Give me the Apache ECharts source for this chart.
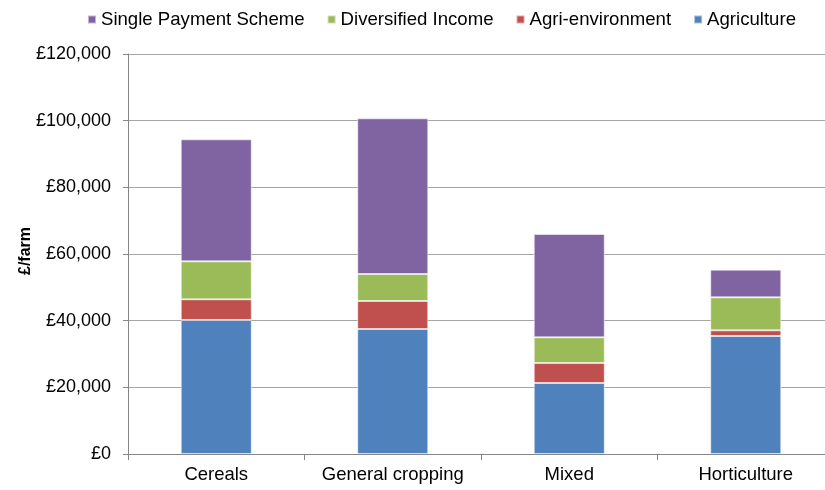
<!DOCTYPE html>
<html>
<head>
<meta charset="utf-8">
<script src="https://cdn.jsdelivr.net/npm/echarts@6/dist/echarts.min.js"></script>
<style>
  html, body { margin: 0; padding: 0; background: #fff; overflow: hidden; }
  #chart { width: 825px; height: 490px; }
</style>
</head>
<body>
<div id="chart"></div>
<script>
// Farm business income by farm type (£ per farm)
const categories = ['Cereals', 'General cropping', 'Mixed', 'Horticulture'];
const agriculture = [40200, 37500, 21300, 35400];
const agriEnvironment = [6200, 8400, 6000, 1700];
const diversifiedIncome = [11400, 8100, 7700, 9900];
const singlePayment = [36600, 46700, 31000, 8300];
const legendOrder = ['Single Payment Scheme', 'Diversified Income', 'Agri-environment', 'Agriculture'];

const FONT = 'Liberation Sans, Arial, sans-serif';

function stackSeries(name, data, color) {
  return {
    name: name,
    type: 'bar',
    stack: 'total',
    barWidth: 71,
    data: data,
    itemStyle: { color: color, borderColor: 'rgba(255,255,255,0.5)', borderWidth: 1 },
    emphasis: { disabled: true }
  };
}

const chart = echarts.init(document.getElementById('chart'), null, { renderer: 'canvas' });
chart.setOption({
  animation: false,
  textStyle: { fontFamily: FONT },
  legend: {
    data: legendOrder,
    left: 87,
    top: 10,
    padding: 0,
    itemWidth: 8,
    itemHeight: 8,
    itemGap: 22,
    icon: 'rect',
    textStyle: { fontFamily: FONT, fontSize: 18.6, color: '#000' }
  },
  // the plot area runs slightly past the right edge of the canvas
  grid: { left: 128, width: 706, top: 54, bottom: 36, outerBoundsMode: 'none', containLabel: false },
  xAxis: {
    type: 'category',
    data: categories,
    axisLine: { lineStyle: { color: '#868686', width: 1 } },
    axisTick: { show: true, length: 6, lineStyle: { color: '#868686' } },
    axisLabel: { interval: 0, fontFamily: FONT, fontSize: 18.5, color: '#000', margin: 11 }
  },
  yAxis: {
    type: 'value',
    min: 0,
    max: 120000,
    interval: 20000,
    name: '£/farm',
    nameLocation: 'middle',
    nameGap: 94,
    nameMoveOverlap: false,
    nameTextStyle: { fontFamily: FONT, fontSize: 16, fontWeight: 'bold', color: '#000', padding: [0, 0, 0, 6] },
    axisLine: { show: true, lineStyle: { color: '#868686', width: 1 } },
    axisTick: { show: true, length: 5, lineStyle: { color: '#868686' } },
    splitLine: { lineStyle: { color: '#A6A6A6', width: 1 } },
    axisLabel: {
      fontFamily: FONT, fontSize: 18, color: '#000', margin: 17,
      formatter: v => '£' + v.toLocaleString('en-GB')
    }
  },
  series: [
    stackSeries('Agriculture', agriculture, '#4F81BD'),
    stackSeries('Agri-environment', agriEnvironment, '#C0504D'),
    stackSeries('Diversified Income', diversifiedIncome, '#9BBB59'),
    stackSeries('Single Payment Scheme', singlePayment, '#8064A2')
  ]
});
</script>
</body>
</html>
